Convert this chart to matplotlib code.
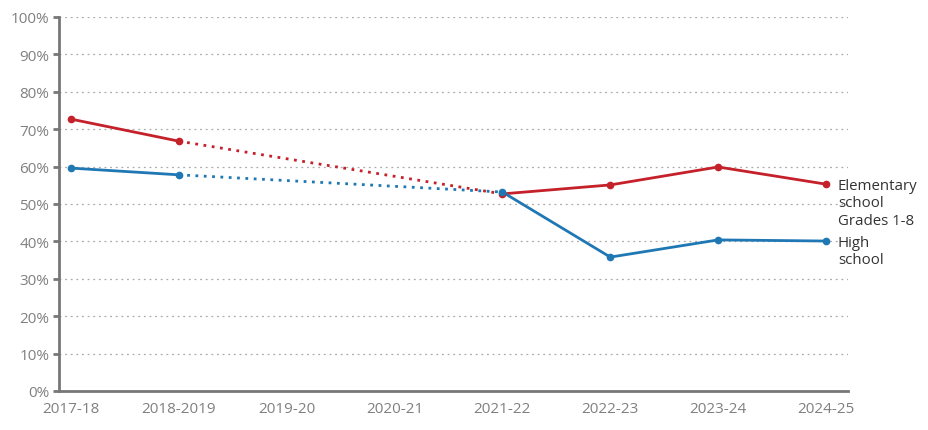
import matplotlib
matplotlib.use("Agg")
import matplotlib.pyplot as plt
import numpy as np

years = ["2017-18", "2018-2019", "2019-20", "2020-21", "2021-22", "2022-23", "2023-24", "2024-25"]
elem_x = [0, 1, 4, 5, 6, 7]
elem = [72.7, 66.8, 52.7, 55.1, 59.9, 55.3]
high_x = [0, 1, 4, 5, 6, 7]
high = [59.6, 57.8, 53.2, 35.8, 40.4, 40.1]

RED = "#c4212b"
BLUE = "#1f78b4"
GREY = "#777777"

plt.rcParams['font.family'] = ['Open Sans', 'DejaVu Sans']
fig = plt.figure(figsize=(9.29, 4.31), dpi=100)
ax = fig.add_axes([59/929, 1-392/431, (848-59)/929, (392-18)/431])

for xs, ys, c in [(elem_x, elem, RED), (high_x, high, BLUE)]:
    ax.plot(xs[:2], ys[:2], color=c, lw=2, solid_capstyle='round', zorder=3)
    ax.plot(xs[1:3], ys[1:3], color=c, lw=2, linestyle=(0, (1, 2)), zorder=3)
    ax.plot(xs[2:], ys[2:], color=c, lw=2, zorder=3)
    ax.plot(xs, ys, 'o', color=c, ms=4.5, zorder=4)

ax.set_xlim(-0.111, 7.204)
ax.set_ylim(0, 100)
ax.set_xticks(range(len(years)))
ax.set_xticklabels(years)
yt = np.arange(0, 101, 10)
ax.set_yticks(yt)
ax.set_yticklabels([f"{v}%" for v in yt])
for v in yt[1:]:
    ax.axhline(v, color="#aaaaaa", lw=0.9, linestyle=(0, (1.5, 3)), zorder=1)

for s in ["top", "right"]:
    ax.spines[s].set_visible(False)
for s in ["left", "bottom"]:
    ax.spines[s].set_color(GREY)
    ax.spines[s].set_linewidth(2)
ax.tick_params(axis='y', length=4, width=2, color=GREY, labelcolor="#808080", labelsize=11, pad=3)
ax.tick_params(axis='x', length=0, labelcolor="#808080", labelsize=11, pad=7)

ax.text(7.11, elem[-1] + 1.6, "Elementary\nschool\nGrades 1-8", color="#333333", fontsize=10.8,
        va='top', ha='left', linespacing=1.2, clip_on=False)
ax.text(7.11, high[-1] + 1.7, "High\nschool", color="#333333", fontsize=10.8,
        va='top', ha='left', linespacing=1.2, clip_on=False)

fig.savefig("out.png", dpi=100)
